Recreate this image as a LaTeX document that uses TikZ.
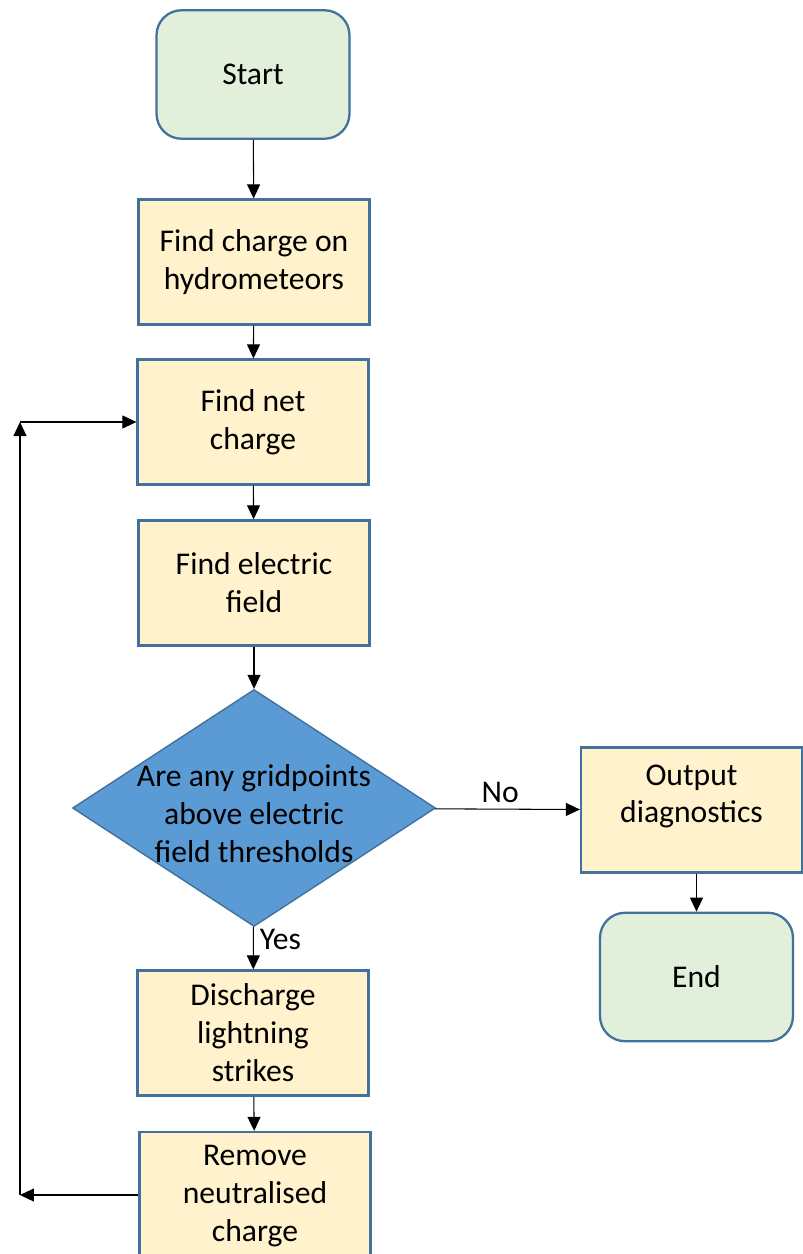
\documentclass[tikz,border=0pt]{standalone}
\usepackage{fontspec}
\setmainfont{Carlito}
\usetikzlibrary{shapes.geometric,arrows.meta}

\definecolor{termfill}{HTML}{E2EFDA}
\definecolor{stepfill}{HTML}{FFF2CC}
\definecolor{edgeblue}{HTML}{41719C}
\definecolor{askfill}{HTML}{5B9BD5}

\begin{document}
\begin{tikzpicture} [
    x=0.02cm, y=-0.02cm,
    font=\fontsize{18}{21.6}\selectfont,
    terminal/.style = { rectangle, rounded corners=5mm, draw=edgeblue, line width=1.3pt,
                        fill=termfill, minimum width=3.86cm, minimum height=2.57cm, align=center },
    block/.style    = { rectangle, draw=edgeblue, line width=1.3pt, fill=stepfill,
                        align=center, minimum width=4.62cm, minimum height=2.5cm },
    decision/.style = { diamond, draw=edgeblue, line width=0.8pt, fill=askfill,
                        minimum width=7.26cm, minimum height=4.74cm, inner sep=0pt },
    line/.style     = { draw, line width=0.6pt, -{Triangle[length=2.8mm,width=2.6mm]} },
  ]

  \useasboundingbox (0,0) rectangle (803,1254);
  \clip (0,0) rectangle (803,1254);

  % Define nodes
  \node[terminal] (start) at (253,74.5) {Start};
  \node[block] (hydro) at (254,262) {Find charge on\\hydrometeors};
  \node[block] (net) at (253,422) {Find net\\charge};
  \node[block] (field) at (254,583) {Find electric\\field};
  \node[decision, label={[align=center, yshift=-0.12cm]center:Are any gridpoints\\above electric\\field thresholds}] (ask) at (254,808) {};
  \node[block, minimum width=4.42cm, text depth=0.65cm] (output) at (691.5,810) {Output\\diagnostics};
  \node[terminal] (end) at (696.5,977) {End};
  \node[block] (discharge) at (253,1033) {Discharge\\lightning\\strikes};
  \node[block, minimum height=2.56cm] (remove) at (255,1196) {Remove\\neutralised\\charge};
  \coordinate (loopbot) at (20,1195);
  \coordinate (looptop) at (20,422);

  % connect the nodes
		\path [line] (start) -- (hydro);
		\path [line] (hydro) -- (net);
		\path [line] (net) -- (field);
		\path [line] (field) -- (ask);
		\path [line] (ask) --node[above, pos=0.45]{No} (output);
		\path [line] (output.south -| end) -- (end);
		\path [line] (ask) --node[right, pos=0.3]{Yes} (discharge);
		\path [line] (discharge) -- (remove);
		\path [line] (remove.west |- loopbot) -- (loopbot);
		\path [line] (loopbot) -- (looptop);
		\path [line] (looptop) -- (net.west |- looptop);
\end{tikzpicture}
\end{document}
